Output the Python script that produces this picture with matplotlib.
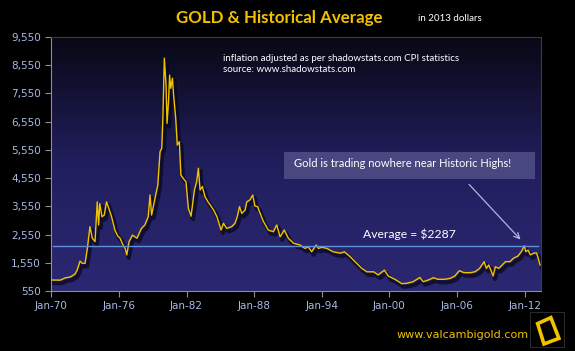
import numpy as np
import matplotlib
matplotlib.use('Agg')
import matplotlib.pyplot as plt
import matplotlib.transforms as mtransforms
from matplotlib.patches import Polygon, Rectangle

# gold price, inflation adjusted (2013 dollars)
years = [1970.0, 1970.8, 1971.2, 1971.7, 1972.1, 1972.3, 1972.55, 1972.75, 1973.0, 1973.2,
         1973.43, 1973.64, 1973.88, 1974.08, 1974.2, 1974.3, 1974.5, 1974.7, 1974.9, 1975.1,
         1975.35, 1975.65, 1975.9, 1976.1, 1976.4, 1976.55, 1976.7, 1976.9, 1977.2, 1977.6,
         1978.0, 1978.3, 1978.6, 1978.76, 1978.9, 1979.2, 1979.45, 1979.65, 1979.8, 1979.9,
         1980.03, 1980.18, 1980.27, 1980.4, 1980.5, 1980.6, 1980.75, 1980.85, 1981.04, 1981.18,
         1981.36, 1981.5, 1981.7, 1981.95, 1982.16, 1982.4, 1982.7, 1982.9, 1983.05, 1983.2,
         1983.4, 1983.64, 1983.9, 1984.1, 1984.4, 1984.7, 1985.06, 1985.27, 1985.56, 1986.0,
         1986.3, 1986.5, 1986.7, 1986.9, 1987.2, 1987.34, 1987.63, 1987.87, 1988.07, 1988.3,
         1988.5, 1988.8, 1989.25, 1989.7, 1990.0, 1990.3, 1990.67, 1991.03, 1991.5, 1992.07,
         1992.5, 1992.8, 1993.1, 1993.5, 1993.7, 1994.0, 1994.45, 1995.0, 1995.65, 1996.0,
         1996.5, 1996.95, 1997.55, 1998.0, 1998.6, 1999.0, 1999.55, 1999.9, 2000.5, 2001.1,
         2001.5, 2002.1, 2002.7, 2003.0, 2003.45, 2003.9, 2004.3, 2004.9, 2005.4, 2005.8,
         2006.2, 2006.6, 2007.2, 2007.6, 2008.0, 2008.4, 2008.6, 2008.8, 2009.0, 2009.2,
         2009.4, 2009.7, 2010.0, 2010.3, 2010.7, 2011.0, 2011.4, 2011.7, 2011.97, 2012.1,
         2012.3, 2012.5, 2012.8, 2013.05, 2013.2, 2013.36]
gold = [940, 935, 1010, 1050, 1150, 1290, 1610, 1530, 1530, 2060,
        2830, 2420, 2300, 3710, 2890, 3650, 3180, 3240, 3710, 3480,
        3180, 2700, 2500, 2420, 2150, 2060, 1830, 2300, 2530, 2420,
        2770, 2890, 3180, 3950, 3240, 3830, 4300, 5490, 5600, 6670,
        8800, 7850, 6490, 7260, 8200, 7730, 8090, 7500, 6670, 5720,
        5840, 4660, 4540, 4420, 3480, 3200, 4130, 4420, 4900, 4130,
        4250, 3890, 3710, 3600, 3420, 3180, 2710, 2950, 2770, 2830,
        2950, 3180, 3540, 3300, 3420, 3710, 3780, 3950, 3560, 3540,
        3330, 3030, 2710, 2650, 2890, 2470, 2710, 2420, 2240, 2180,
        2060, 2120, 1940, 2180, 2060, 2100, 2060, 1940, 1890, 1940,
        1770, 1590, 1350, 1230, 1230, 1120, 1290, 1080, 960, 810,
        820, 880, 1030, 880, 940, 1020, 965, 965, 1000, 1080,
        1270, 1200, 1200, 1234, 1350, 1590, 1350, 1470, 1290, 1080,
        1410, 1350, 1470, 1590, 1590, 1710, 1790, 1940, 2150, 1940,
        2000, 1830, 1890, 1900, 1710, 1470]
avg_line = 2150
avg_label = 'Average = $2287'
yticks = [550, 1550, 2550, 3550, 4550, 5550, 6550, 7550, 8550, 9550]
xtick_years = [1970, 1976, 1982, 1988, 1994, 2000, 2006, 2012]
xtick_labels = ['Jan-70', 'Jan-76', 'Jan-82', 'Jan-88', 'Jan-94', 'Jan-00', 'Jan-06', 'Jan-12']

gold_col = '#f2c200'
tick_col = '#a9b8e6'

fig = plt.figure(figsize=(5.75, 3.51), dpi=100, facecolor='black')
ax = fig.add_axes([0.0892, 0.1709, 0.8517, 0.7237])
ax.set_facecolor('#2a2670')

# background gradient, dark at top
top = np.array([8, 8, 20]) / 255
mid = np.array([33, 30, 94]) / 255
bot = np.array([43, 40, 114]) / 255
t = np.linspace(0, 1, 256)[:, None]
grad = np.where(t < 0.5, top + (mid - top) * (t / 0.5), mid + (bot - mid) * ((t - 0.5) / 0.5))
ax.imshow(grad[:, None, :], extent=[0, 1, 0, 1], transform=ax.transAxes,
          aspect='auto', zorder=0)

# shadow then line
shadow = mtransforms.offset_copy(ax.transData, fig=fig, x=2, y=-3, units='dots')
ax.plot(years, gold, color='#07071a', lw=3, alpha=0.7, transform=shadow, zorder=2)
ax.plot(years, gold, color=gold_col, lw=1.0, zorder=3)

ax.plot([years[0] + 0.15, 2013.2], [avg_line, avg_line], color='#6090d8', lw=1.0, zorder=4)
ax.text(2001.8, 2570, avg_label, color='white', fontsize=8.7,
        ha='center', va='center', family='Lato', zorder=5)

ax.set_xlim(1970, 2013.45)
ax.set_ylim(550, 9550)
ax.set_yticks(yticks)
ax.set_yticklabels([f'{v:,}' for v in yticks])
ax.set_xticks(xtick_years)
ax.set_xticklabels(xtick_labels)
ax.tick_params(colors='#8c8c9c', labelcolor=tick_col, labelsize=7.5, length=4, width=0.8)
for side in ['left', 'bottom']:
    ax.spines[side].set_color('#8c8c9c')
for side in ['top', 'right']:
    ax.spines[side].set_color('#3c3c48')

# texts
fig.text(0.486, 0.948, 'GOLD & Historical Average', color=gold_col, fontsize=12.2,
         fontweight='bold', family='Lato', ha='center', va='center')
fig.text(0.727, 0.948, 'in 2013 dollars', color='white', fontsize=7,
         family='Lato', ha='left', va='center')
ax.text(0.35, 0.935, 'inflation adjusted as per shadowstats.com CPI statistics\nsource: www.shadowstats.com',
        transform=ax.transAxes, color='white', fontsize=7, family='Lato',
        ha='left', va='top', linespacing=1.35, zorder=5)

# callout box and arrow
ax.add_patch(Rectangle((0.475, 0.441), 0.513, 0.106, transform=ax.transAxes,
                       fc='#4b4a82', ec='none', alpha=0.95, zorder=6))
ax.text(0.495, 0.503, 'Gold is trading nowhere near Historic Highs!', transform=ax.transAxes,
        color='white', fontsize=8, family='Lato', ha='left', va='center', zorder=7)
ax.annotate('', xy=(2011.8, 2300), xytext=(2006.9, 4400),
            arrowprops=dict(arrowstyle='->', color='#b4b4dc', lw=0.9), zorder=6)

# footer
fig.text(0.92, 0.045, 'www.valcambigold.com', color=gold_col, fontsize=8,
         family='DejaVu Sans', ha='right', va='center')
fig.patches.append(Rectangle((0.922, 0.012), 0.058, 0.098, transform=fig.transFigure,
                             fc='black', ec='#333333', lw=0.6))
fig.patches.append(Polygon([(0.935, 0.078), (0.958, 0.095), (0.972, 0.036), (0.946, 0.020)],
                           closed=True, transform=fig.transFigure, fill=False,
                           ec=gold_col, lw=2.6, joinstyle='miter'))

fig.savefig('out.png', dpi=100, facecolor='black')
